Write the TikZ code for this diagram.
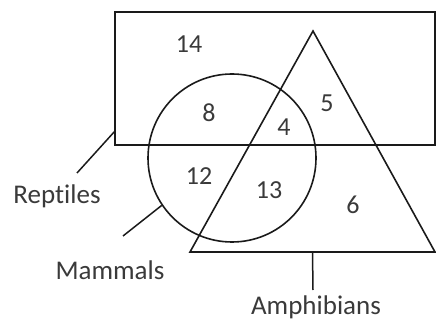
\documentclass[tikz,border=0pt]{standalone}
\usepackage{fontspec}
\setmainfont{Carlito}[Ligatures=NoCommon]
\usetikzlibrary{positioning, calc}
\definecolor{vennline}{HTML}{1A1A1A}
\definecolor{venntext}{HTML}{3A3A3A}
\tikzset{
  setline/.style={draw=vennline, line width=1.6pt},
  leader/.style={draw=vennline, line width=1.5pt},
  num/.style={font=\fontsize{26}{30}\selectfont, text=venntext, inner sep=0pt},
  lbl/.style={font=\fontsize{27}{32}\selectfont, text=venntext, inner sep=0pt},
}

\begin{document}
\begin{tikzpicture}[x=1pt, y=-1pt]
    \useasboundingbox (0,0) rectangle (436,320);
    % reptiles box
    \coordinate (rNW) at (115,12);
    \coordinate (rSE) at (435,145);
    \draw[setline] (rNW) rectangle (rSE);
    % mammals circle
    \node[setline, circle, minimum size=168pt, inner sep=0pt] (mam) at (232,158) {};
    % amphibians triangle
    \coordinate (tA) at (313,31);
    \coordinate (tL) at (190,252);
    \coordinate (tR) at (435,252);
    \draw[setline] (tA) -- (tL) -- (tR) -- cycle;

    % region counts
    \node[num] (n14) at (189,44) {14};
    \node[num] (n8) at (209,113) {8};
    \node[num] (n4) at (284,127) {4};
    \node[num] (n5) at (327,103) {5};
    \node[num] (n12) at (199,176) {12};
    \node[num] (n13) at (269,190) {13};
    \node[num] (n6) at (353,205) {6};

    % labels
    \node[lbl] (rep) at (57,196) {Reptiles};
    \node[lbl] (mamlbl) at (110,270) {Mammals};
    \node[lbl] (amp) at (316,307) {Amphibians};

    \coordinate (rA) at (115,131);
    \coordinate (rB) at (77,173);
    \coordinate (mB) at (123,236);
    \coordinate (tB) at ($(tL)!0.5!(tR)$);
    \coordinate (aB) at (313,290);
    \draw[leader] (rA) -- (rB);
    \draw[leader] (mam.214) -- (mB);
    \draw[leader] (tB) -- (aB);
\end{tikzpicture}
\end{document}
